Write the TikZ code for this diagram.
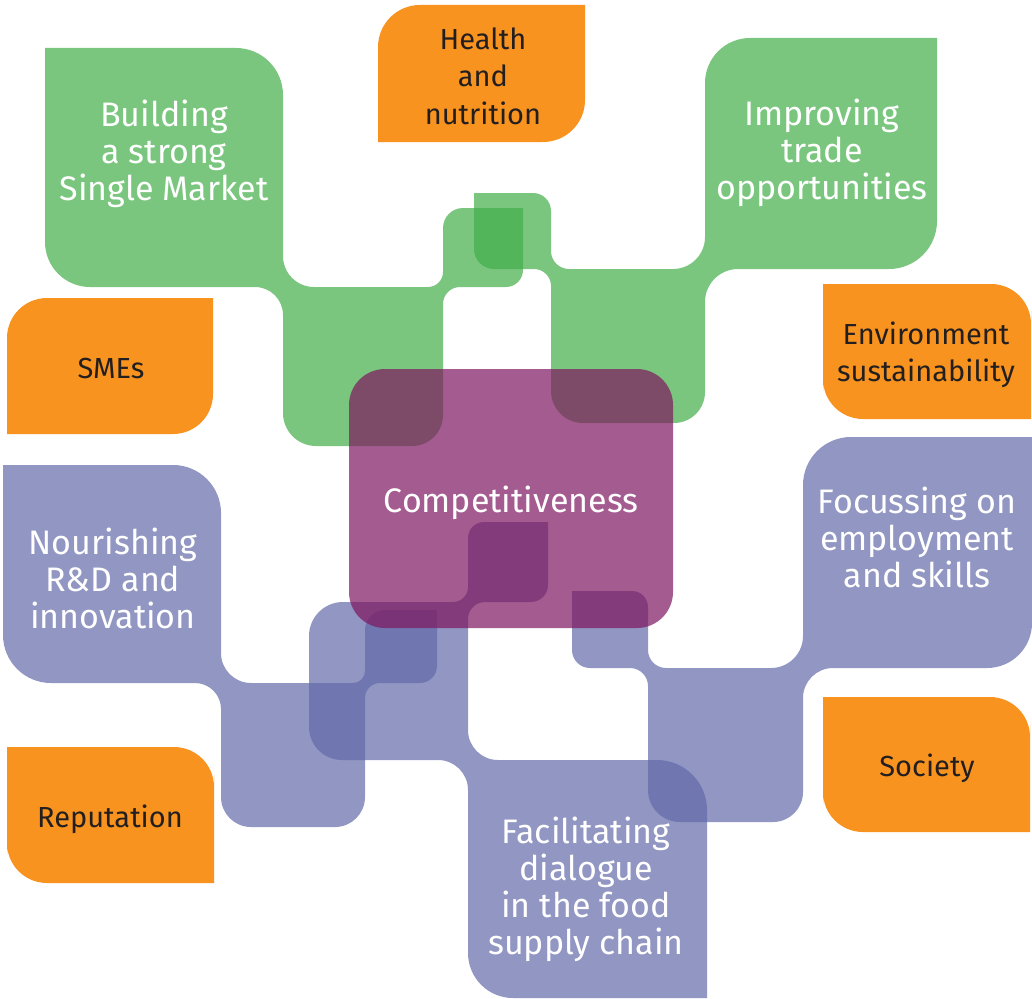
\documentclass[tikz,border=0pt]{standalone}
\usepackage{fontspec}
\setmainfont{Fira Sans}
\usepackage{tikz}

\definecolor{leafgreen}{RGB}{66,174,72}
\definecolor{leafblue}{RGB}{98,105,168}
\definecolor{leafpurple}{RGB}{126,22,95}
\definecolor{leaforange}{RGB}{247,147,30}
\definecolor{darktext}{RGB}{35,31,32}

\begin{document}
\begin{tikzpicture}[x=1pt, y=-1pt,
	rc/.style={rounded corners=#1pt},
	sc/.style={sharp corners},
	greenpart/.style={fill=leafgreen, fill opacity=0.7},
	bluepart/.style={fill=leafblue, fill opacity=0.7},
	corepart/.style={fill=leafpurple, fill opacity=0.7},
	orangepart/.style={fill=leaforange},
	bigtext/.style={text=white, align=center, inner sep=0pt,
		font=\fontsize{34}{37}\selectfont},
	smalltext/.style={text=darktext, align=center, inner sep=0pt,
		font=\fontsize{29}{37.5}\selectfont}]
	\useasboundingbox (0,0) rectangle (1032,998);

	% green branches
	\fill[greenpart] (164,48)
		[rc=47] -- (283,48) -- (283,167)
		[rc=31] -- (283,287) -- (363,287)
		[rc=15] -- (443,287) -- (443,247)
		[rc=20] -- (443,208) -- (483,208)
		[sc] -- (523,208) -- (523,247)
		[rc=17] -- (523,287) -- (483,287)
		[rc=17] -- (443,287) -- (443,366)
		[rc=31] -- (443,446) -- (363,446)
		[rc=33] -- (283,446) -- (283,366)
		[rc=28] -- (283,287) -- (164,287)
		[rc=45] -- (45,287) -- (45,167)
		[sc] -- (45,48) -- cycle;
	\fill[greenpart] (821,38)
		[sc] -- (937,38) -- (937,153)
		[rc=48] -- (937,269) -- (821,269)
		[rc=33] -- (705,269) -- (705,346)
		[rc=31] -- (705,423) -- (628,423)
		[rc=32] -- (551,423) -- (551,346)
		[rc=17] -- (551,269) -- (512,269)
		[rc=20] -- (474,269) -- (474,231)
		[sc] -- (474,193) -- (512,193)
		[rc=18] -- (551,193) -- (551,231)
		[rc=18] -- (551,269) -- (628,269)
		[rc=32] -- (705,269) -- (705,153)
		[rc=45] -- (705,38) -- cycle;

	% blue branches
	\fill[bluepart] (112,465)
		[rc=48] -- (221,465) -- (221,574)
		[rc=30] -- (221,683) -- (293,683)
		[rc=12] -- (365,683) -- (365,646)
		[rc=20] -- (365,610) -- (401,610)
		[sc] -- (437,610) -- (437,646)
		[rc=17] -- (437,683) -- (401,683)
		[rc=15] -- (365,683) -- (365,755)
		[rc=30] -- (365,827) -- (293,827)
		[rc=30] -- (221,827) -- (221,755)
		[rc=26] -- (221,683) -- (112,683)
		[rc=48] -- (3,683) -- (3,574)
		[sc] -- (3,465) -- cycle;
	\fill[bluepart] (508,522)
		[sc] -- (548,522) -- (548,562)
		[rc=17] -- (548,602) -- (508,602)
		[rc=17] -- (468,602) -- (468,681)
		[rc=30] -- (468,760) -- (587,760)
		[rc=50] -- (707,760) -- (707,879)
		[sc] -- (707,998) -- (587,998)
		[rc=45] -- (468,998) -- (468,879)
		[rc=30] -- (468,760) -- (388,760)
		[rc=33] -- (309,760) -- (309,681)
		[rc=34] -- (309,602) -- (388,602)
		[rc=15] -- (468,602) -- (468,562)
		[rc=16] -- (468,522) -- cycle;
	\fill[bluepart] (917,437)
		[sc] -- (1032,437) -- (1032,552)
		[rc=45] -- (1032,668) -- (917,668)
		[rc=30] -- (803,668) -- (803,745)
		[rc=30] -- (803,822) -- (725,822)
		[rc=32] -- (648,822) -- (648,745)
		[rc=18] -- (648,668) -- (610,668)
		[rc=18] -- (572,668) -- (572,629)
		[sc] -- (572,591) -- (610,591)
		[rc=16] -- (648,591) -- (648,629)
		[rc=18] -- (648,668) -- (725,668)
		[rc=32] -- (803,668) -- (803,552)
		[rc=48] -- (803,437) -- cycle;

	% centre
	\fill[corepart, rounded corners=36pt] (349,369) rectangle (673,628);

	% orange leaves
	\fill[orangepart] (481,5) [sc] -- (585,5) -- (585,73) [rc=42] -- (585,142) -- (481,142)
		[sc] -- (378,142) -- (378,73) [rc=42] -- (378,5) -- cycle;
	\fill[orangepart] (110,298) [sc] -- (213,298) -- (213,366) [rc=40] -- (213,434) -- (110,434)
		[sc] -- (7,434) -- (7,366) [rc=40] -- (7,298) -- cycle;
	\fill[orangepart] (927,284) [rc=40] -- (1031,284) -- (1031,351) [sc] -- (1031,419) -- (927,419)
		[rc=40] -- (823,419) -- (823,351) [sc] -- (823,284) -- cycle;
	\fill[orangepart] (926,697) [rc=40] -- (1030,697) -- (1030,764) [sc] -- (1030,832) -- (926,832)
		[rc=40] -- (823,832) -- (823,764) [sc] -- (823,697) -- cycle;
	\fill[orangepart] (110,747) [rc=40] -- (214,747) -- (214,815) [sc] -- (214,883) -- (110,883)
		[rc=40] -- (7,883) -- (7,815) [sc] -- (7,747) -- cycle;

	\node[bigtext] (building) at (164,154) {Building\\a strong\\Single Market};
	\node[bigtext] (improving) at (822,153) {Improving\\trade\\opportunities};
	\node[smalltext] (health) at (483,76) {Health\\and\\nutrition};
	\node[smalltext] (smes) at (111,369) {SMEs};
	\node[smalltext] (environment) at (926,355) {Environment\\sustainability};
	\node[bigtext] (competitiveness) at (511,503) {Competitiveness};
	\node[bigtext] (nourishing) at (113,578) {Nourishing\\R\&D and\\innovation};
	\node[bigtext] (focussing) at (917,537) {Focussing on\\employment\\and skills};
	\node[smalltext] (society) at (927,768) {Society};
	\node[smalltext] (reputation) at (110,819) {Reputation};
	\node[bigtext] (facilitating) at (586,889) {Facilitating\\dialogue\\in the food\\supply chain};
\end{tikzpicture}
\end{document}
